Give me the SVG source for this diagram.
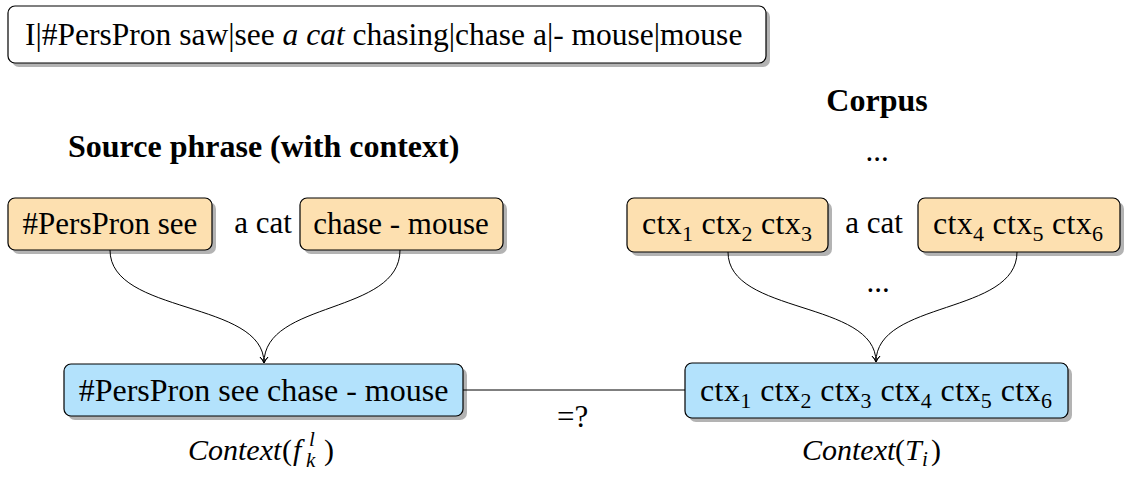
<svg xmlns="http://www.w3.org/2000/svg" width="1128" height="477" viewBox="0 0 1128 477">
<style>
text{font-family:"Liberation Serif","Times New Roman",serif;fill:#000}
.t{font-size:31px}
.big{font-size:32px}
.b{font-size:32px;font-weight:bold}
.sub{font-size:22px}
.lab{font-size:30px}
.labsub{font-size:21px;font-style:italic}
.it{font-style:italic}
.shadow{fill:#b3b3b3}
.orange{fill:#fde0b0;stroke:#000;stroke-width:1.2}
.blue{fill:#b3e2fc;stroke:#000;stroke-width:1.2}
.white{fill:#fff;stroke:#000;stroke-width:1.2}
.edge{fill:none;stroke:#000;stroke-width:1}
</style>
<defs>
<marker id="arr" markerWidth="10" markerHeight="10" refX="7" refY="5" orient="auto" markerUnits="userSpaceOnUse">
<path d="M1,1 Q4,4 7,5 Q4,6 1,9" fill="none" stroke="#000" stroke-width="1"/>
</marker>
</defs>
<g id="sentence">
<rect class="shadow" x="12" y="10" width="758" height="57" rx="7"/>
<rect class="white" x="8" y="6" width="758" height="57" rx="7"/>
<text class="t" x="25" y="45" style="font-size:31.5px">I|#PersPron saw|see <tspan class="it">a cat</tspan> chasing|chase a|- mouse|mouse</text>
</g>
<g id="title-corpus"><text class="b" x="877" y="111" text-anchor="middle">Corpus</text></g>
<g id="title-source"><text class="b" x="68" y="157">Source phrase (with context)</text></g>
<g id="dots-top"><text class="t" x="877" y="161" text-anchor="middle">...</text></g>
<g id="left-ctx">
<rect class="shadow" x="12" y="202" width="204" height="52" rx="7"/>
<rect class="orange" x="8" y="198" width="204" height="52" rx="7"/>
<text class="t" x="110" y="234" text-anchor="middle">#PersPron see</text>
</g>
<g id="left-phrase"><text class="t" x="263" y="233" text-anchor="middle">a cat</text></g>
<g id="right-ctx">
<rect class="shadow" x="304" y="202" width="203" height="52" rx="7"/>
<rect class="orange" x="300" y="198" width="203" height="52" rx="7"/>
<text class="t" x="401" y="234" text-anchor="middle">chase - mouse</text>
</g>
<g id="corpus-left">
<rect class="shadow" x="631" y="202" width="201" height="54" rx="7"/>
<rect class="orange" x="627" y="198" width="201" height="54" rx="7"/>
<text class="big" x="642" y="234" textLength="170">ctx<tspan class="sub" dy="7">1</tspan><tspan dy="-7"> ctx</tspan><tspan class="sub" dy="7">2</tspan><tspan dy="-7"> ctx</tspan><tspan class="sub" dy="7">3</tspan></text>
</g>
<g id="corpus-phrase"><text class="t" x="874" y="233" text-anchor="middle">a cat</text></g>
<g id="corpus-right">
<rect class="shadow" x="922" y="202" width="202" height="54" rx="7"/>
<rect class="orange" x="918" y="198" width="202" height="54" rx="7"/>
<text class="big" x="933" y="234" textLength="170">ctx<tspan class="sub" dy="7">4</tspan><tspan dy="-7"> ctx</tspan><tspan class="sub" dy="7">5</tspan><tspan dy="-7"> ctx</tspan><tspan class="sub" dy="7">6</tspan></text>
</g>
<g id="dots-mid"><text class="t" x="878" y="292" text-anchor="middle">...</text></g>
<g id="source-context">
<rect class="shadow" x="68" y="368" width="399" height="52" rx="7"/>
<rect class="blue" x="64" y="364" width="399" height="52" rx="7"/>
<text class="big" x="263.5" y="401" text-anchor="middle">#PersPron see chase - mouse</text>
</g>
<g id="corpus-context">
<rect class="shadow" x="689" y="367" width="383" height="55" rx="7"/>
<rect class="blue" x="685" y="363" width="383" height="55" rx="7"/>
<text class="big" x="700" y="401" textLength="352">ctx<tspan class="sub" dy="7">1</tspan><tspan dy="-7"> ctx</tspan><tspan class="sub" dy="7">2</tspan><tspan dy="-7"> ctx</tspan><tspan class="sub" dy="7">3</tspan><tspan dy="-7"> ctx</tspan><tspan class="sub" dy="7">4</tspan><tspan dy="-7"> ctx</tspan><tspan class="sub" dy="7">5</tspan><tspan dy="-7"> ctx</tspan><tspan class="sub" dy="7">6</tspan></text>
</g>
<g id="label-source"><text class="lab" x="188" y="460"><tspan class="it">Context</tspan><tspan x="282">(</tspan><tspan class="it" x="293">f</tspan><tspan class="labsub" x="309" y="446">l</tspan><tspan class="labsub" x="306" y="467">k</tspan><tspan x="324" y="460">)</tspan></text></g>
<g id="label-corpus"><text class="lab" x="802" y="460"><tspan class="it">Context</tspan><tspan x="895">(</tspan><tspan class="it" x="905">T</tspan><tspan class="labsub" x="922" y="466">i</tspan><tspan x="931" y="460">)</tspan></text></g>
<g id="connectors">
<path class="edge" d="M110,250 C110,315 264,300 264,363" marker-end="url(#arr)"/>
<path class="edge" d="M400,250 C400,315 264,300 264,363" marker-end="url(#arr)"/>
<path class="edge" d="M728,252 C728,315 876,300 876,362" marker-end="url(#arr)"/>
<path class="edge" d="M1017,252 C1017,315 876,300 876,362" marker-end="url(#arr)"/>
<path class="edge" d="M463,390 L685,390"/>
<text class="t" x="557" y="427">=?</text>
</g>
</svg>
